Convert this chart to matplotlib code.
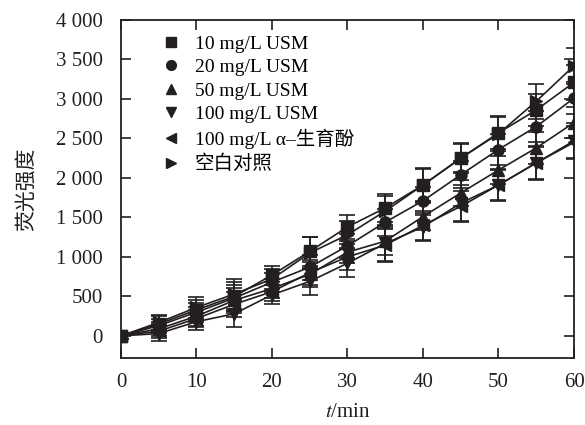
import matplotlib
matplotlib.use("Agg")
import matplotlib.pyplot as plt
from matplotlib.lines import Line2D

plt.rcParams['font.family'] = ['Liberation Serif', 'Noto Sans CJK SC']
plt.rcParams['mathtext.fontset'] = 'stix'

time_min = [0, 5, 10, 15, 20, 25, 30, 35, 40, 45, 50, 55, 60]

labels = ["10 mg/L USM", "20 mg/L USM", "50 mg/L USM", "100 mg/L USM",
          "100 mg/L \u03b1\u2013生育酚", "空白对照"]
markers = ["s", "o", "^", "v", "<", ">"]

usm10 = [0, 150, 330, 500, 770, 1070, 1380, 1620, 1910, 2250, 2570, 2860, 3210]
usm20 = [0, 130, 300, 480, 680, 870, 1140, 1440, 1710, 2040, 2360, 2650, 3010]
usm50 = [0, 90, 250, 450, 600, 780, 1060, 1200, 1510, 1810, 2100, 2380, 2700]
usm100 = [0, 30, 180, 280, 520, 690, 920, 1170, 1380, 1680, 1910, 2190, 2470]
tocopherol = [0, 60, 220, 400, 560, 800, 1000, 1150, 1400, 1640, 1910, 2190, 2450]
blank = [0, 170, 360, 530, 720, 1050, 1280, 1580, 1910, 2250, 2560, 2970, 3420]

err10 = [40, 100, 130, 180, 120, 180, 150, 180, 200, 180, 200, 200, 220]
err20 = [40, 90, 120, 170, 120, 160, 150, 170, 180, 170, 190, 200, 200]
err50 = [40, 90, 120, 160, 120, 160, 140, 170, 170, 170, 180, 200, 200]
err100 = [40, 90, 110, 170, 120, 170, 180, 230, 180, 230, 200, 220, 220]
errtoc = [40, 90, 110, 160, 120, 160, 160, 200, 180, 200, 190, 200, 210]
errblank = [40, 100, 130, 190, 130, 200, 170, 190, 220, 190, 220, 220, 230]

series = [usm10, usm20, usm50, usm100, tocopherol, blank]
errors = [err10, err20, err50, err100, errtoc, errblank]

fig = plt.figure(figsize=(5.85, 4.25), dpi=100)
ax = fig.add_axes([0.2068, 0.1576, 0.7744, 0.7954])

col = '#231f20'
for y, e, m in zip(series, errors, markers):
    ax.errorbar(time_min, y, yerr=e, color=col, marker=m, markersize=8,
                linewidth=1.2, elinewidth=1.2, capsize=6, capthick=1.2)

ax.set_xlim(0, 60)
ax.set_ylim(-280, 4000)
ax.set_xticks([0, 10, 20, 30, 40, 50, 60])
yt = [0, 500, 1000, 1500, 2000, 2500, 3000, 3500, 4000]
ax.set_yticks(yt)
ax.set_yticklabels(["{:,}".format(v).replace(",", " ") for v in yt])
ax.tick_params(direction='in', length=7, width=1.2, labelsize=15,
               top=True, right=True, colors=col)
ax.tick_params(axis='y', pad=13)
ax.tick_params(axis='x', pad=11)
for s in ax.spines.values():
    s.set_linewidth(1.3)
    s.set_color(col)

ax.set_xlabel("$t$/min", fontsize=15, color=col, labelpad=8)
ax.set_ylabel("荧光强度", fontsize=15, color=col, labelpad=14)

handles = [Line2D([], [], linestyle='none', marker=m, color=col, markersize=7)
           for m in markers]
ax.legend(handles, labels, loc='upper left', bbox_to_anchor=(0.06, 0.99),
          frameon=False, fontsize=14, handletextpad=0.6, labelspacing=0.3,
          handlelength=1.2, borderaxespad=0.2)

fig.savefig("out.png", dpi=100)
